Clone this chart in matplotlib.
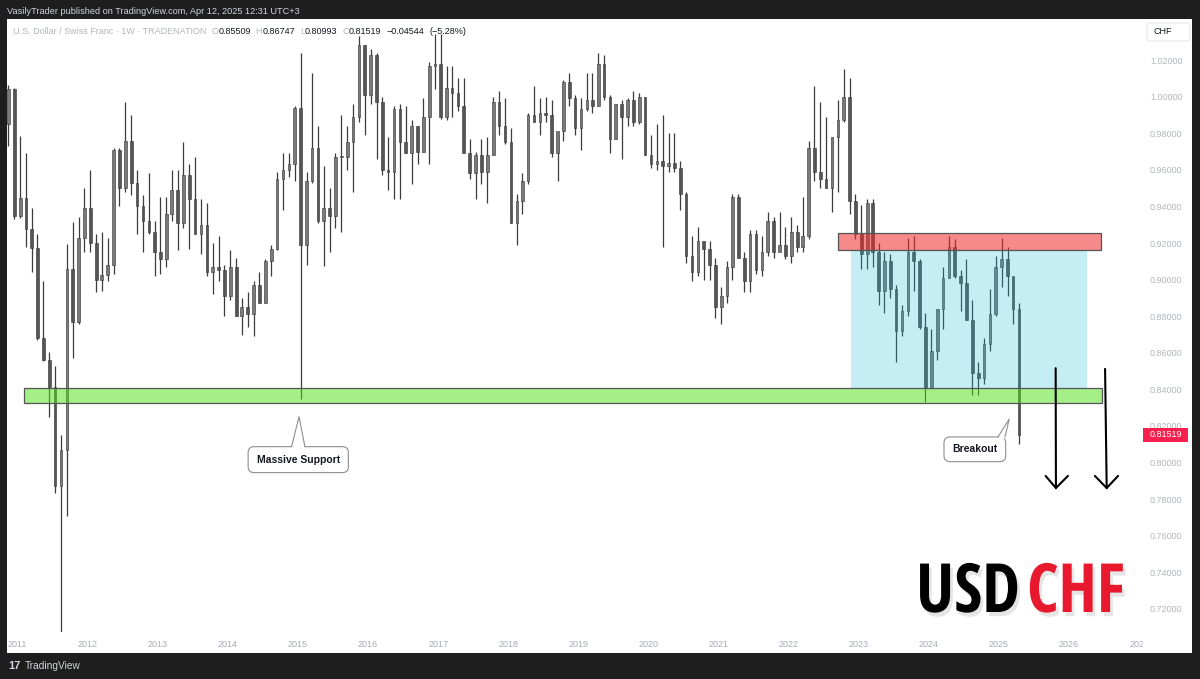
import numpy as np
import pandas as pd
import matplotlib
matplotlib.use("Agg")
import matplotlib.pyplot as plt
from matplotlib import font_manager
from matplotlib.patches import Rectangle, FancyBboxPatch, Polygon
from matplotlib.lines import Line2D
from matplotlib.transforms import IdentityTransform, Bbox, TransformedBbox, blended_transform_factory
import matplotlib.patheffects as pe

plt.rcParams['font.family'] = ['Liberation Sans', 'DejaVu Sans']

# monthly USDCHF candles, Nov 2010 .. Apr 2025
first_open = 0.9850
closes = [
    1.0040, 0.9350,
    0.9445, 0.9275, 0.9175, 0.8680, 0.8560, 0.8415, 0.7870, 0.8070, 0.9060, 0.8770, 0.9230, 0.9390,
    0.9200, 0.9000, 0.9025, 0.9080, 0.9710, 0.9500, 0.9760, 0.9530, 0.9400, 0.9320, 0.9260, 0.9150,
    0.9110, 0.9360, 0.9490, 0.9310, 0.9570, 0.9440, 0.9250, 0.9300, 0.9040, 0.9070, 0.9050, 0.8910,
    0.9070, 0.8800, 0.8850, 0.8810, 0.8970, 0.8870, 0.9100, 0.9170, 0.9550, 0.9600, 0.9630, 0.9940,
    0.9190, 0.9540, 0.9720, 0.9320, 0.9390, 0.9350, 0.9670, 0.9670, 0.9750, 0.9890, 1.0280, 1.0010,
    1.0230, 0.9970, 0.9600, 0.9590, 0.9930, 0.9750, 0.9690, 0.9840, 0.9700, 0.9890, 1.0170, 1.0180,
    0.9890, 1.0050, 1.0020, 0.9950, 0.9690, 0.9580, 0.9680, 0.9590, 0.9680, 0.9970, 0.9840, 0.9750,
    0.9310, 0.9430, 0.9540, 0.9900, 0.9860, 0.9910, 0.9900, 0.9690, 0.9810, 1.0080, 0.9990, 0.9830,
    0.9930, 0.9980, 0.9950, 1.0180, 1.0000, 0.9770, 0.9960, 0.9890, 0.9980, 0.9860, 1.0000, 0.9680,
    0.9630, 0.9650, 0.9620, 0.9640, 0.9610, 0.9470, 0.9130, 0.9040, 0.9210, 0.9170, 0.9080, 0.8850,
    0.8910, 0.9070, 0.9450, 0.9120, 0.8990, 0.9250, 0.9050, 0.9150, 0.9320, 0.9150, 0.9190, 0.9130,
    0.9260, 0.9180, 0.9240, 0.9720, 0.9590, 0.9550, 0.9500, 0.9780, 0.9870, 1.0000, 0.9430, 0.9250,
    0.9140, 0.9420, 0.9150, 0.8940, 0.9100, 0.8950, 0.8720, 0.8830, 0.9150, 0.9100, 0.8740, 0.8410,
    0.8610, 0.8840, 0.9010, 0.9180, 0.9020, 0.8980, 0.8780, 0.8490, 0.8460, 0.8650, 0.8810, 0.9070,
    0.9110, 0.9020, 0.8840, 0.8152,
]
highs = [
    1.0065, 1.0050,
    0.9785, 0.9690, 0.9390, 0.9250, 0.8990, 0.8605, 0.8530, 0.8150, 0.9195, 0.9315, 0.9340, 0.9500,
    0.9597, 0.9250, 0.9260, 0.9230, 0.9720, 0.9720, 0.9970, 0.9900, 0.9600, 0.9460, 0.9580, 0.9320,
    0.9450, 0.9450, 0.9600, 0.9600, 0.9750, 0.9630, 0.9670, 0.9440, 0.9420, 0.9200, 0.9240, 0.9080,
    0.9160, 0.9120, 0.8900, 0.8930, 0.8990, 0.9040, 0.9110, 0.9190, 0.9590, 0.9690, 0.9690, 0.9950,
    1.0240, 0.9590, 1.0130, 0.9840, 0.9620, 0.9500, 0.9690, 0.9900, 0.9840, 0.9960, 1.0330, 1.0280,
    1.0260, 1.0240, 1.0000, 0.9780, 0.9950, 0.9960, 0.9950, 0.9870, 0.9840, 0.9990, 1.0190, 1.0340,
    1.0340, 1.0170, 1.0170, 1.0100, 1.0100, 0.9770, 0.9700, 0.9770, 0.9780, 1.0000, 1.0030, 0.9990,
    0.9830, 0.9470, 0.9580, 0.9910, 1.0060, 0.9990, 1.0000, 0.9980, 0.9790, 1.0090, 1.0130, 1.0010,
    0.9990, 1.0130, 1.0130, 1.0240, 1.0230, 1.0010, 0.9960, 0.9980, 0.9990, 1.0030, 1.0020, 1.0000,
    0.9790, 0.9850, 0.9900, 0.9800, 0.9800, 0.9650, 0.9480, 0.9240, 0.9290, 0.9210, 0.9210, 0.9120,
    0.8960, 0.9100, 0.9470, 0.9470, 0.9150, 0.9270, 0.9270, 0.9240, 0.9370, 0.9340, 0.9370, 0.9290,
    0.9340, 0.9300, 0.9450, 0.9760, 1.0060, 0.9970, 0.9890, 0.9780, 0.9980, 1.0150, 1.0100, 0.9470,
    0.9410, 0.9440, 0.9440, 0.9200, 0.9150, 0.9140, 0.8970, 0.8860, 0.9230, 0.9240, 0.9110, 0.8820,
    0.8730, 0.8840, 0.9070, 0.9240, 0.9220, 0.9050, 0.9110, 0.8890, 0.8550, 0.8680, 0.8950, 0.9130,
    0.9230, 0.9180, 0.9010, 0.8870,
]
lows = [
    0.9730, 0.9330,
    0.9335, 0.9180, 0.9040, 0.8670, 0.8555, 0.8250, 0.7835, 0.7070, 0.7710, 0.8570, 0.8755, 0.9150,
    0.9150, 0.8930, 0.8940, 0.8990, 0.9030, 0.9400, 0.9480, 0.9460, 0.9250, 0.9150, 0.9250, 0.9020,
    0.9030, 0.9070, 0.9320, 0.9160, 0.9280, 0.9170, 0.9250, 0.9140, 0.9020, 0.8920, 0.8990, 0.8800,
    0.8890, 0.8800, 0.8700, 0.8740, 0.8690, 0.8870, 0.8870, 0.9020, 0.9160, 0.9380, 0.9560, 0.9540,
    0.8350, 0.9080, 0.9530, 0.9310, 0.9075, 0.9150, 0.9280, 0.9260, 0.9600, 0.9480, 0.9860, 0.9790,
    0.9960, 0.9660, 0.9570, 0.9490, 0.9440, 0.9440, 0.9690, 0.9520, 0.9630, 0.9700, 0.9630, 1.0040,
    0.9880, 0.9870, 0.9890, 0.9920, 0.9690, 0.9550, 0.9440, 0.9520, 0.9420, 0.9680, 0.9790, 0.9740,
    0.9310, 0.9190, 0.9360, 0.9520, 0.9860, 0.9790, 0.9860, 0.9670, 0.9540, 0.9760, 0.9950, 0.9790,
    0.9710, 0.9920, 0.9910, 0.9950, 0.9980, 0.9690, 0.9770, 0.9660, 0.9840, 0.9840, 0.9850, 0.9680,
    0.9610, 0.9600, 0.9180, 0.9590, 0.9590, 0.9380, 0.9090, 0.8990, 0.9020, 0.9000, 0.9000, 0.8790,
    0.8760, 0.8870, 0.9000, 0.9120, 0.8930, 0.8930, 0.9030, 0.9020, 0.9130, 0.9120, 0.9160, 0.9110,
    0.9090, 0.9150, 0.9150, 0.9220, 0.9540, 0.9500, 0.9500, 0.9370, 0.9480, 0.9860, 0.9360, 0.9220,
    0.9060, 0.9060, 0.9070, 0.8860, 0.8820, 0.8900, 0.8550, 0.8690, 0.8800, 0.8940, 0.8730, 0.8330,
    0.8400, 0.8560, 0.8730, 0.9010, 0.9010, 0.8830, 0.8780, 0.8370, 0.8370, 0.8430, 0.8610, 0.8800,
    0.8960, 0.8910, 0.8760, 0.8099,
]

year_ticks = list(range(2011, 2028))
price_ticks = [0.72, 0.74, 0.76, 0.78, 0.80, 0.82, 0.84, 0.86, 0.88, 0.90, 0.92, 0.94, 0.96, 0.98, 1.00, 1.02]
last_price = 0.81519
header = "VasilyTrader published on TradingView.com, Apr 12, 2025 12:31 UTC+3"
legend_pieces = [
    ("U.S. Dollar / Swiss Franc \u00b7 1W \u00b7 TRADENATION", 'g', 5),
    ("O", 'g', 0), ("0.85509", 'd', 5),
    ("H", 'g', 0), ("0.86747", 'd', 5),
    ("L", 'g', 0), ("0.80993", 'd', 5),
    ("C", 'g', 0), ("0.81519", 'd', 5),
    ("\u22120.04544", 'd', 5), ("(\u22125.28%)", 'd', 0),
]

# drawings on the chart (time in years, price)
support_zone = (2011.09, 2026.467, 0.8324, 0.8409)
resist_zone = (2022.70, 2026.45, 0.9160, 0.9257)
range_box = (2022.89, 2026.257, 0.8409, 0.9160)
arrows = [((2025.81, 0.8516), (2025.814, 0.7861), 2025.667, 2025.985, 0.7927),
          ((2026.515, 0.8512), (2026.538, 0.7861), 2026.37, 2026.70, 0.7927)]

W, H = 1200, 679
fig = plt.figure(figsize=(W / 100, H / 100), dpi=100)
fig.patch.set_facecolor('#1e1e1e')
fig.patches.append(Rectangle((7 / W, 1 - 653 / H), 1185 / W, 634 / H, transform=fig.transFigure,
                             facecolor='white', edgecolor='none', zorder=-1))

ax = fig.add_axes([7 / W, 1 - 632 / H, 1136 / W, 610 / H])
ax.set_facecolor('none')
ax.set_xlim(2010.85, 2027.056)
ax.set_ylim(0.7074, 1.0408)
for s in ax.spines.values():
    s.set_visible(False)

# candles
dates = pd.date_range('2010-11-01', periods=len(closes), freq='MS')
t = dates.year.values + (dates.dayofyear.values - 1 + 14) / 365.25
c = np.array(closes)
h = np.array(highs)
l = np.array(lows)
o = np.array([first_open] + closes[:-1])
up = c >= o
ax.vlines(t, l, h, color='#3c3c3c', lw=0.9, zorder=2)
ax.bar(t, np.maximum(np.abs(c - o), 0.0006), bottom=np.minimum(o, c), width=0.038,
       color=np.where(up, '#7a7a7a', '#555555'), edgecolor='#333333', linewidth=0.4, zorder=3)

# zones
def zone(z, fc, alpha, ec):
    ax.add_patch(Rectangle((z[0], z[2]), z[1] - z[0], z[3] - z[2], facecolor=fc, alpha=alpha,
                           edgecolor='none', zorder=4))
    if ec:
        ax.add_patch(Rectangle((z[0], z[2]), z[1] - z[0], z[3] - z[2], facecolor='none',
                               edgecolor=ec, lw=0.9, zorder=4.5))

zone(range_box, '#17bbd7', 0.25, None)
zone(resist_zone, '#f02828', 0.55, '#555555')
zone(support_zone, '#4ce114', 0.5, '#555555')

for top, bot, al, ar, ap in arrows:
    ax.plot([top[0], bot[0]], [top[1], bot[1]], color='black', lw=1.5, solid_capstyle='round', zorder=6)
    ax.plot([al, bot[0], ar], [ap, bot[1], ap], color='black', lw=1.5,
            solid_capstyle='round', solid_joinstyle='miter', zorder=6)

# callouts
def callout(text, bx, by, base, tip):
    (x0, y0), (x1, y1) = ax.transData.transform([(bx[0], by[0]), (bx[1], by[1])])
    ax.add_patch(FancyBboxPatch((x0, y0), x1 - x0, y1 - y0, boxstyle='round,pad=0,rounding_size=6',
                                transform=IdentityTransform(), facecolor='white', edgecolor='#8e8e8e',
                                lw=0.8, zorder=7, clip_on=False))
    (b0, _), (b1, _) = ax.transData.transform([(base[0], by[1]), (base[1], by[1])])
    tx, ty = ax.transData.transform([tip])[0]
    ax.add_patch(Polygon([(b0, y1 - 1.5), (tx, ty), (b1, y1 - 1.5)], closed=True, transform=IdentityTransform(),
                         facecolor='white', edgecolor='none', zorder=8, clip_on=False))
    ax.add_line(Line2D([b0, tx, b1], [y1, ty, y1], transform=IdentityTransform(), color='#8e8e8e',
                       lw=0.8, zorder=9, clip_on=False))
    ax.text((bx[0] + bx[1]) / 2, (by[0] + by[1]) / 2, text, ha='center', va='center',
            fontsize=7.5, fontweight='bold', color='#131722', zorder=10)

callout("Massive Support", (2014.29, 2015.72), (0.7945, 0.8087), (2014.91, 2015.10), (2015.016, 0.8251))
callout("Breakout", (2024.217, 2025.097), (0.8005, 0.8140), (2024.987, 2025.087), (2025.148, 0.8238))

# price scale
ax.yaxis.tick_right()
ax.set_yticks(price_ticks)
ax.set_yticklabels([f"{v:.5f}" for v in price_ticks])
ax.tick_params(axis='y', length=0, pad=5, labelsize=6.5, labelcolor='#b2b5be')
ax.set_xticks([])

# year labels clipped at the chart edge
clip = TransformedBbox(Bbox([[0, -0.1], [1, 1]]), ax.transAxes)
for yr in year_ticks:
    tx = ax.text(yr, -0.0197, str(yr), transform=blended_transform_factory(ax.transData, ax.transAxes),
                 ha='center', va='center', fontsize=6.5, color='#a8abb4')
    tx.set_clip_box(clip)
    tx.set_clip_on(True)

# last price tag
py = ax.transData.transform([(0, last_price)])[0][1]
fig.patches.append(Rectangle((1143, py - 7), 45, 14, transform=IdentityTransform(),
                             facecolor='#f7204e', edgecolor='none', zorder=5))
fig.text(1150 / W, py / H, f"{last_price:.5f}", color='white', fontsize=6.5, va='center', ha='left', zorder=6)

# currency box
fig.patches.append(FancyBboxPatch((1147, H - 41), 43, 18, boxstyle='round,pad=0,rounding_size=3',
                                  transform=IdentityTransform(), facecolor='white', edgecolor='#e6e8ee',
                                  lw=0.8, zorder=5))
fig.text(1153 / W, 1 - 32 / H, "CHF", color='#131722', fontsize=6.5, va='center', ha='left', zorder=6)

# header and legend
fig.text(7 / W, 1 - 11 / H, header, color='#d1d4dc', fontsize=6.6, va='center', ha='left')
renderer = fig.canvas.get_renderer()
xp = 13
cols = {'g': '#b2b5be', 'd': '#131722'}
for s, k, gap in legend_pieces:
    tt = fig.text(xp / W, 1 - 31 / H, s, color=cols[k], fontsize=6.5, va='center', ha='left')
    xp += tt.get_window_extent(renderer).width + gap

# footer
fig.text(8 / W, 1 - 666 / H, "17", color='#d1d4dc', fontsize=8, fontweight='bold', va='center', ha='left')
fig.text(25 / W, 1 - 666 / H, "TradingView", color='#d1d4dc', fontsize=7.3, va='center', ha='left')

# big title: the narrowest bold face among the usual Latin sans families
families = ('DejaVu Sans', 'Liberation Sans', 'Noto Sans', 'Roboto', 'Open Sans', 'Lato', 'Inter')
cands = [f for f in font_manager.fontManager.ttflist
         if int(f.weight) >= 700 and f.name.startswith(families)
         and 'mono' not in (f.fname + f.name).lower() and 'cjk' not in (f.fname + f.name).lower()
         and 'serif' not in f.name.lower() and 'italic' not in (f.fname + f.style).lower()
         and 'oblique' not in (f.fname + f.style).lower()]
best, best_w = None, None
for f in cands:
    try:
        fpt = font_manager.FontProperties(fname=f.fname, size=62)
        wv, hv, dv = renderer.get_text_width_height_descent("USDCHF", fpt, ismath=False)
    except Exception:
        continue
    if wv < 150:
        continue
    if best_w is None or wv < best_w:
        best, best_w = f, wv
if best is not None:
    fp = font_manager.FontProperties(fname=best.fname)
else:
    fp = font_manager.FontProperties(family='DejaVu Sans', weight='bold')
fp.set_size(62)
shadow = [pe.SimplePatchShadow(offset=(2, -3), shadow_rgbFace='#000000', alpha=0.10), pe.Normal()]
t1 = fig.text(916 / W, 1 - 612 / H, "USD", fontproperties=fp, color='black', va='baseline', ha='left',
              path_effects=shadow)
w1 = t1.get_window_extent(renderer).width
t2 = fig.text(1027 / W, 1 - 612 / H, "CHF", fontproperties=fp, color='#e8192c', va='baseline', ha='left',
              path_effects=shadow)
w2 = t2.get_window_extent(renderer).width
scale = min(1.0, 104 / w1, 106 / w2)
if scale < 1.0:
    fp.set_size(62 * scale)
    t1.set_fontproperties(fp)
    t2.set_fontproperties(fp)

fig.savefig('out.png', dpi=100, facecolor=fig.get_facecolor())
